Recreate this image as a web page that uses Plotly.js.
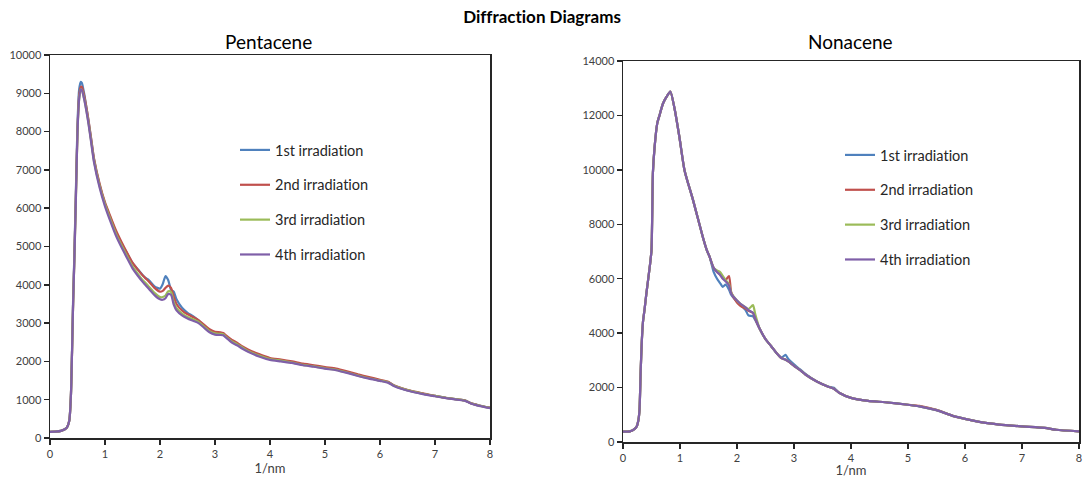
<!DOCTYPE html>
<html>
<head>
<meta charset="utf-8">
<script src="https://cdn.plot.ly/plotly-3.0.1.min.js"></script>
<style>html,body{margin:0;padding:0;background:#fff;}#chart{width:1084px;height:478px;}
#chart text{font-variant-ligatures:none;font-feature-settings:"liga" 0,"clig" 0;}</style>
</head>
<body>
<div id="chart"></div>
<script>
// ---- Data ----
const seriesNames = ["1st irradiation", "2nd irradiation", "3rd irradiation", "4th irradiation"];
const seriesColors = ["#4F81BD", "#C0504D", "#9BBB59", "#7F5FA8"];

const pentaceneX = [0,0.1,0.2,0.3,0.35, 0.38,0.4,0.42,0.44,0.47, 0.5,0.53,0.56,0.58,0.62, 0.66,0.7,0.75,0.8,0.9,
  1.0,1.1,1.2,1.3,1.4, 1.5,1.6,1.7,1.75,1.8, 1.9,2.0,2.05,2.1,2.15, 2.2,2.25,2.3,2.4,2.5,
  2.6,2.7,2.8,2.9,3.0, 3.1,3.15,3.2,3.3,3.4, 3.5,3.6,3.8,4.0,4.2, 4.4,4.6,4.8,5.0,5.2,
  5.4,5.6,5.8,6.0,6.15, 6.25,6.4,6.6,6.8,7.0, 7.2,7.4,7.55,7.65,7.8, 8.0];
const pentacene1 = [160,165,185,260,450, 1100,2250,3600,4650,6400, 8200,9100,9300,9270,9000, 8650,8280,7780,7280,6620,
  6120,5740,5380,5090,4820, 4570,4400,4230,4170,4120, 3960,3900,4020,4230,4120, 3870,3820,3620,3400,3270,
  3180,3070,2930,2800,2730, 2720,2700,2640,2530,2450, 2360,2280,2160,2060,2020, 1980,1920,1880,1830,1790,
  1720,1640,1570,1500,1460, 1370,1290,1210,1150,1100, 1050,1010,980,910,850, 790];
const pentacene2 = [160,165,185,260,450, 1100,2200,3500,4550,6300, 8050,8950,9170,9170,8950, 8650,8300,7800,7300,6650,
  6150,5780,5420,5120,4840, 4580,4390,4220,4150,4080, 3920,3820,3840,3920,3980, 3920,3690,3500,3330,3230,
  3160,3080,2960,2840,2770, 2760,2740,2680,2570,2490, 2390,2310,2190,2090,2050, 2000,1940,1900,1850,1810,
  1740,1660,1590,1520,1470, 1380,1300,1220,1160,1100, 1050,1010,980,910,850, 790];
const pentacene3 = [160,165,185,260,450, 1100,2200,3500,4500,6200, 8000,8850,9100,9080,8870, 8570,8230,7730,7240,6590,
  6100,5700,5330,5030,4750, 4480,4280,4100,4030,3950, 3790,3680,3680,3720,3830, 3810,3550,3390,3250,3160,
  3100,3030,2910,2790,2730, 2720,2710,2640,2530,2450, 2360,2270,2150,2060,2020, 1970,1910,1870,1820,1780,
  1710,1630,1560,1500,1450, 1370,1290,1210,1150,1100, 1050,1010,975,905,845, 785];
const pentacene4 = [160,165,185,260,450, 1100,2200,3500,4500,6200, 8000,8850,9100,9080,8850, 8550,8200,7700,7200,6550,
  6050,5650,5280,4980,4700, 4430,4230,4050,3970,3890, 3730,3620,3610,3650,3760, 3740,3480,3330,3200,3120,
  3060,3000,2880,2760,2700, 2690,2680,2620,2500,2420, 2330,2250,2130,2040,2000, 1960,1900,1860,1810,1770,
  1700,1620,1550,1490,1440, 1360,1280,1200,1140,1090, 1040,1000,970,900,840, 780];

const nonaceneX = [0,0.12,0.2,0.24,0.27, 0.29,0.31,0.33,0.35,0.38, 0.41,0.44,0.47,0.5,0.525, 0.555,0.6,0.64,0.7,0.76,
  0.83,0.9,0.99,1.08,1.23, 1.4,1.47,1.52,1.59,1.65, 1.7,1.75,1.8,1.86,1.9, 2.0,2.06,2.15,2.2,2.28,
  2.32,2.4,2.5,2.6,2.7, 2.78,2.85,2.9,3.0,3.1, 3.2,3.4,3.6,3.7,3.8, 4.0,4.3,4.6,5.0,5.2,
  5.5,5.8,6.0,6.3,6.6, 7.0,7.4,7.6,8.0];
const nonacene1 = [380,390,470,570,800, 1200,2600,3700,4400,4900, 5450,5950,6450,7050,9900, 10850,11700,12000,12430,12670,
  12880,12300,11200,9980,8880, 7530,7050,6800,6250,6000, 5850,5700,5780,5600,5400, 5150,5030,4850,4650,4620,
  4480,4150,3780,3520,3250, 3100,3200,3050,2850,2680, 2500,2220,2040,1990,1800, 1620,1510,1460,1370,1310,
  1170,950,850,720,640, 575,520,450,390];
const nonacene2 = [380,390,470,570,800, 1200,2600,3700,4400,4900, 5450,5950,6450,7050,9900, 10850,11700,12000,12430,12670,
  12880,12300,11200,9980,8880, 7530,7050,6800,6400,6250, 6150,6020,5950,6100,5500, 5120,5000,4900,4820,4740,
  4530,4150,3780,3520,3250, 3080,3030,2960,2800,2650, 2480,2220,2030,1960,1800, 1620,1510,1460,1370,1330,
  1180,950,850,720,640, 575,520,450,390];
const nonacene3 = [380,390,470,570,800, 1200,2600,3700,4400,4900, 5450,5950,6450,7050,9900, 10850,11700,12000,12430,12670,
  12880,12300,11200,9980,8880, 7530,7050,6800,6400,6300, 6250,6100,5950,5800,5480, 5200,5080,4950,4880,5030,
  4700,4150,3780,3520,3250, 3080,3020,2960,2800,2650, 2480,2220,2030,1960,1800, 1620,1510,1460,1370,1310,
  1170,950,850,720,640, 575,520,450,390];
const nonacene4 = [380,390,470,570,800, 1200,2600,3700,4400,4900, 5450,5950,6450,7050,9900, 10850,11700,12000,12430,12670,
  12880,12300,11200,9980,8880, 7530,7050,6800,6400,6250, 6150,6000,5900,5750,5450, 5200,5080,4950,4850,4750,
  4550,4150,3780,3520,3250, 3080,3020,2960,2800,2650, 2480,2220,2030,1960,1800, 1620,1510,1460,1370,1310,
  1170,950,850,720,640, 575,520,450,390];

const pentaceneSeries = [pentacene1, pentacene2, pentacene3, pentacene4];
const nonaceneSeries = [nonacene1, nonacene2, nonacene3, nonacene4];

// ---- Build traces ----
const traces = [];
pentaceneSeries.forEach((ys, i) => {
  traces.push({
    type: 'scatter', mode: 'lines', x: pentaceneX, y: ys, name: seriesNames[i],
    xaxis: 'x', yaxis: 'y', legend: 'legend', legendgroup: 'p' + i,
    line: { color: seriesColors[i], width: 2.2, shape: 'spline', smoothing: 0.6 }
  });
});
nonaceneSeries.forEach((ys, i) => {
  traces.push({
    type: 'scatter', mode: 'lines', x: nonaceneX, y: ys, name: seriesNames[i],
    xaxis: 'x2', yaxis: 'y2', legend: 'legend2', legendgroup: 'n' + i,
    line: { color: seriesColors[i], width: 2.2, shape: 'spline', smoothing: 0.6 }
  });
});

const W = 1084, H = 478;
const px = v => v / W;
const py = v => 1 - v / H;

const FONT = 'Lato, "Open Sans", sans-serif';
const tickFont = { family: FONT, size: 11, color: '#404040' };
const axisCommon = {
  showgrid: false, zeroline: false, showline: true, mirror: true,
  linecolor: '#262626', linewidth: 1.5,
  ticks: 'outside', ticklen: 5, tickwidth: 1.5, tickcolor: '#262626',
  tickfont: tickFont, fixedrange: true, tickformat: 'd'
};

const legendCommon = {
  font: { family: FONT, size: 14.5, color: '#262626' },
  bgcolor: 'rgba(0,0,0,0)', borderwidth: 0, tracegroupgap: 13,
  xanchor: 'left', yanchor: 'top', itemwidth: 30
};

const layout = {
  width: W, height: H,
  paper_bgcolor: '#ffffff', plot_bgcolor: '#ffffff',
  margin: { l: 0, r: 0, t: 0, b: 0 },
  showlegend: true,
  title: {
    text: '<b>Diffraction Diagrams</b>', x: 0.5, xanchor: 'center', y: py(17), yanchor: 'middle',
    font: { family: FONT, size: 17, color: '#000' }
  },
  xaxis: Object.assign({}, axisCommon, {
    domain: [px(50), px(490)], range: [0, 8], dtick: 1, tick0: 0, anchor: 'y',
    title: { text: '1/nm', standoff: 1, font: { family: FONT, size: 13, color: '#404040' } }
  }),
  yaxis: Object.assign({}, axisCommon, {
    domain: [py(438), py(55)], range: [0, 10000], dtick: 1000, tick0: 0, anchor: 'x'
  }),
  xaxis2: Object.assign({}, axisCommon, {
    domain: [px(623), px(1079)], range: [0, 8], dtick: 1, tick0: 0, anchor: 'y2',
    title: { text: '1/nm', standoff: 1, font: { family: FONT, size: 13, color: '#404040' } }
  }),
  yaxis2: Object.assign({}, axisCommon, {
    domain: [py(442), py(61)], range: [0, 14000], dtick: 2000, tick0: 0, anchor: 'x2'
  }),
  legend: Object.assign({}, legendCommon, { x: px(235), y: py(134) }),
  legend2: Object.assign({}, legendCommon, { x: px(840), y: py(139) }),
  annotations: [
    { text: 'Pentacene', xref: 'paper', yref: 'paper', x: px(268), y: py(42), xanchor: 'center', yanchor: 'middle',
      showarrow: false, font: { family: FONT, size: 19, color: '#000' } },
    { text: 'Nonacene', xref: 'paper', yref: 'paper', x: px(850), y: py(42), xanchor: 'center', yanchor: 'middle',
      showarrow: false, font: { family: FONT, size: 19, color: '#000' } }
  ]
};

Plotly.newPlot('chart', traces, layout, { displayModeBar: false, staticPlot: true });
</script>
</body>
</html>
